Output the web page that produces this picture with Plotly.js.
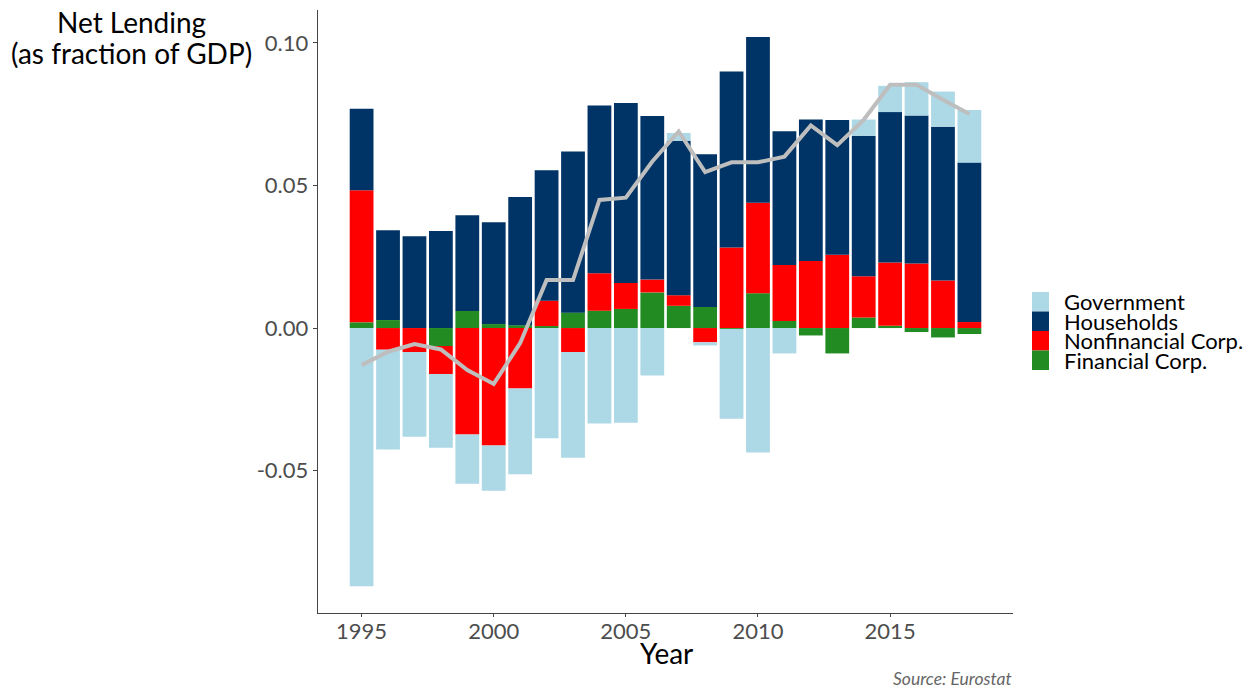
<!DOCTYPE html>
<html>
<head>
<meta charset="utf-8">
<script src="https://cdn.plot.ly/plotly-3.0.1.min.js"></script>
<style>html,body{margin:0;padding:0;background:#fff;}#chart{width:1257px;height:690px;}</style>
</head>
<body>
<div id="chart"></div>
<script>
const years = [1995,1996,1997,1998,1999,2000,2001,2002,2003,2004,2005,2006,2007,2008,2009,2010,2011,2012,2013,2014,2015,2016,2017,2018];
const financial = [0.002,0.0028,0,-0.0063,0.006,0.0014,0.001,0.0007,0.0054,0.0061,0.0067,0.0125,0.0078,0.0074,-0.0003,0.0122,0.0025,-0.0026,-0.0089,0.0037,0.0008,-0.0014,-0.0033,-0.0021];
const nonfinancial = [0.0463,-0.0076,-0.0084,-0.0098,-0.0373,-0.0412,-0.0212,0.0089,-0.0084,0.0131,0.0091,0.0045,0.0037,-0.005,0.0282,0.0317,0.0196,0.0235,0.0257,0.0145,0.0222,0.0226,0.0167,0.0021];
const households = [0.0286,0.0315,0.0322,0.034,0.0335,0.0357,0.0449,0.0457,0.0565,0.0588,0.0631,0.0573,0.0542,0.0535,0.0617,0.0581,0.0469,0.0496,0.0472,0.0492,0.0527,0.0519,0.0539,0.0559];
const government = [-0.0905,-0.035,-0.0297,-0.0259,-0.0173,-0.0158,-0.0301,-0.0386,-0.0371,-0.0335,-0.0332,-0.0166,0.0027,-0.0011,-0.0315,-0.0436,-0.0089,0,0,0.0057,0.0092,0.0117,0.0123,0.0184];
const total = [-0.013,-0.0083,-0.0056,-0.0075,-0.0147,-0.0196,-0.0053,0.0168,0.0168,0.0449,0.0457,0.0584,0.0689,0.0547,0.0581,0.0581,0.0601,0.071,0.0641,0.073,0.0853,0.0853,0.08,0.075];

const seriesNames = ["Financial Corp.","Nonfinancial Corp.","Households","Government"];
const seriesColors = ["#228B22","#FF0000","#003366","#ADD8E6"];
const seriesValues = [financial, nonfinancial, households, government];

const yTickVals = [-0.05, 0, 0.05, 0.10];
const yTickText = ["-0.05","0.00","0.05","0.10"];
const xTickVals = [1995,2000,2005,2010,2015];
const yTitleLines = ["Net Lending","(as fraction of GDP)"];

const FONT = "Lato, 'Open Sans', sans-serif";

const traces = seriesValues.map((v,i)=>({
  type:'bar', x:years, y:v, name:seriesNames[i],
  marker:{color:seriesColors[i], line:{width:0}},
  showlegend:false, hoverinfo:'skip'
}));
traces.push({
  type:'scatter', mode:'lines', x:years, y:total, name:'Total',
  line:{color:'#BEBEBE', width:4}, showlegend:false, hoverinfo:'skip'
});

const L=318, R=244, T=10, B=77, W=1257, H=690;
const pw = W-L-R, ph = H-T-B;
const px = x => (x-L)/pw;
const py = y => (H-B-y)/ph;

const shapes = [];
const annotations = [];
const legendOrder = [3,2,1,0];
legendOrder.forEach((si,k)=>{
  const top = 292 + k*19.5;
  shapes.push({type:'rect', xref:'paper', yref:'paper', x0:px(1032), x1:px(1049), y0:py(top+19.5), y1:py(top), fillcolor:seriesColors[si], line:{width:0}, layer:'above'});
  annotations.push({xref:'paper', yref:'paper', x:px(1062), y:py(top+9.5), xanchor:'left', yanchor:'middle', showarrow:false, text:seriesNames[si], font:{family:FONT, size:22, color:'#000'}});
});
annotations.push({xref:'paper', yref:'paper', x:px(132), y:py(22), xanchor:'center', yanchor:'middle', showarrow:false,
  text:yTitleLines[0], font:{family:FONT, size:28, color:'#000'}});
annotations.push({xref:'paper', yref:'paper', x:px(132), y:py(53), xanchor:'center', yanchor:'middle', showarrow:false,
  text:yTitleLines[1], font:{family:FONT, size:28, color:'#000'}});
annotations.push({xref:'paper', yref:'paper', x:px(666), y:py(653), xanchor:'center', yanchor:'middle', showarrow:false,
  text:'Year', font:{family:FONT, size:28, color:'#000'}});
annotations.push({xref:'paper', yref:'paper', x:px(1014), y:py(678), xanchor:'right', yanchor:'middle', showarrow:false,
  text:'<i>Source: Eurostat</i>', font:{family:FONT, size:17.5, color:'#666666'}});

const layout = {
  width:W, height:H,
  margin:{l:L, r:R, t:T, b:B, pad:0},
  paper_bgcolor:'#fff', plot_bgcolor:'#fff',
  barmode:'relative', bargap:0.1,
  showlegend:false,
  xaxis:{range:[1993.35,2019.65], tickvals:xTickVals, ticktext:xTickVals.map(String),
    showgrid:false, zeroline:false, showline:true, linecolor:'#444', linewidth:1.3,
    ticks:'outside', ticklen:3, tickcolor:'#444', tickwidth:1, ticklabelstandoff:-5,
    tickfont:{family:FONT, size:22, color:'#4D4D4D'}},
  yaxis:{range:[-0.0999,0.1115], tickvals:yTickVals, ticktext:yTickText,
    showgrid:false, zeroline:false, showline:true, linecolor:'#444', linewidth:1.3,
    ticks:'outside', ticklen:4, tickcolor:'#444', tickwidth:1,
    tickfont:{family:FONT, size:22, color:'#4D4D4D'}},
  shapes:shapes, annotations:annotations
};
Plotly.newPlot('chart', traces, layout, {displayModeBar:false, staticPlot:true});
</script>
</body>
</html>
